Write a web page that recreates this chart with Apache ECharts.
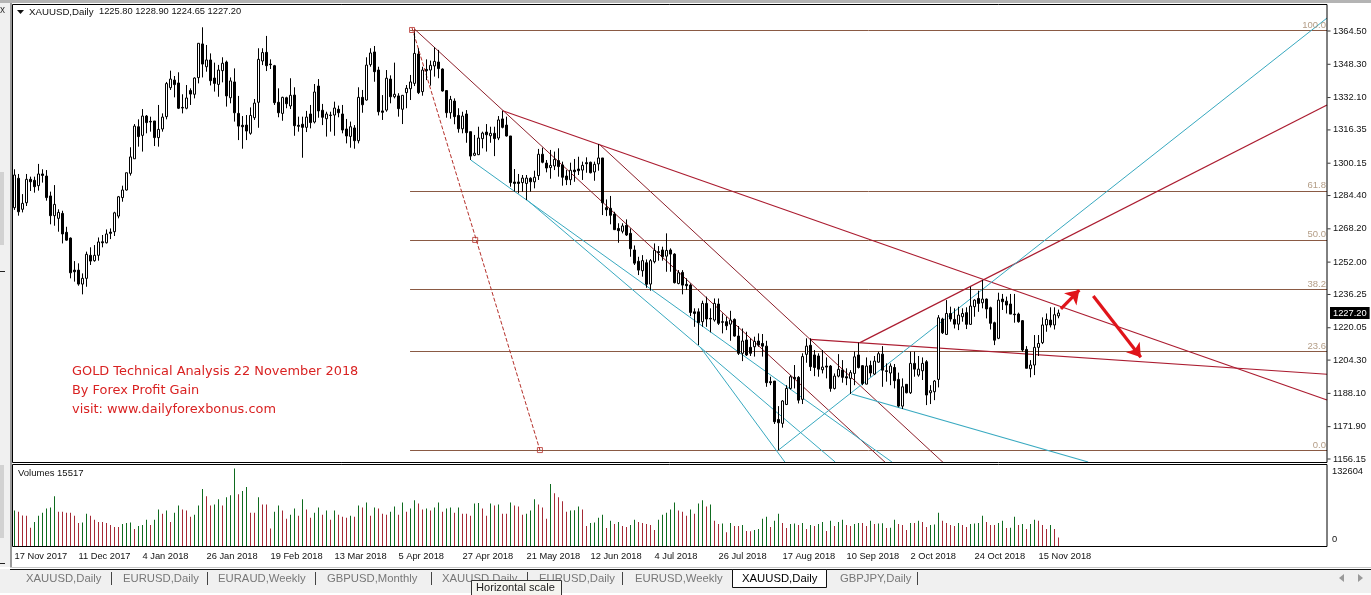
<!DOCTYPE html>
<html>
<head>
<meta charset="utf-8">
<style>html,body{margin:0;padding:0;background:#fff}#main{width:1371px;height:595px}</style>
<script src="https://cdn.jsdelivr.net/npm/echarts@6/dist/echarts.min.js"></script>
</head>
<body>
<div id="main"></div>
<script>
// XAUUSD daily, values
var tickDates = ['17 Nov 2017','11 Dec 2017','4 Jan 2018','26 Jan 2018','19 Feb 2018','13 Mar 2018','5 Apr 2018','27 Apr 2018','21 May 2018','12 Jun 2018','4 Jul 2018','26 Jul 2018','17 Aug 2018','10 Sep 2018','2 Oct 2018','24 Oct 2018','15 Nov 2018'];
var priceTicks = [1364.50,1348.30,1332.10,1316.35,1300.15,1284.40,1268.20,1252.00,1236.25,1227.20,1220.05,1204.30,1188.10,1171.90,1156.15];
var volumeTicks = [0,132604];
var lastPrice = 1227.20;

var opens = [1278.5,1292.8,1277.7,1280.9,1292.3,1291.8,1289.2,1294.9,1293.9,1284.2,1274.6,1273.3,1275.7,1266.5,1263.7,1248.1,1248.1,1241.3,1244.1,1255.3,1252.7,1255.3,1261.9,1261.4,1266.6,1266.8,1274.4,1283.4,1287.1,1295.2,
1302.3,1317.9,1313.7,1323.1,1320.5,1320.7,1312.6,1316.8,1322.8,1336.9,1340.6,1339.2,1327.3,1326.9,1335.5,1333.7,1341.8,1358.2,1347.1,1350.4,1341.6,1338.5,1345.2,1349.4,1332.0,1339.7,1324.4,1318.6,1318.7,1314.7,
1322.3,1329.8,1349.9,1354.1,1348.4,1347.6,1329.8,1324.4,1332.0,1328.0,1333.3,1318.6,1319.1,1317.6,1324.1,1320.2,1337.7,1325.9,1321.8,1323.6,1323.6,1326.4,1324.1,1316.8,1313.2,1317.3,1311.1,1332.2,1330.9,1348.1,
1354.3,1345.5,1325.6,1326.0,1341.1,1332.5,1332.9,1326.4,1334.5,1336.4,1339.0,1353.3,1335.0,1345.8,1345.5,1347.5,1349.4,1346.0,1335.5,1324.7,1330.4,1323.4,1316.9,1324.1,1315.5,1304.0,1304.3,1312.1,1315.3,1313.5,
1314.7,1312.4,1321.7,1318.7,1313.4,1291.0,1291.0,1290.7,1290.3,1292.8,1291.1,1294.1,1304.5,1300.2,1298.0,1298.8,1301.4,1299.3,1293.9,1292.1,1296.8,1297.3,1296.8,1300.4,1300.6,1295.9,1299.8,1302.7,1278.5,1278.2,
1275.4,1268.4,1267.0,1269.9,1266.0,1257.9,1252.4,1247.8,1251.7,1241.3,1252.2,1257.1,1257.9,1254.9,1257.9,1255.9,1241.6,1247.0,1241.2,1240.8,1227.8,1227.8,1223.0,1231.9,1224.6,1223.8,1231.6,1223.0,1223.0,1221.8,
1224.1,1216.0,1207.6,1214.1,1210.5,1210.8,1213.6,1212.4,1211.1,1193.8,1194.1,1175.4,1173.5,1182.7,1190.5,1195.9,1195.9,1185.2,1207.1,1211.5,1206.8,1206.3,1199.6,1201.4,1201.4,1190.5,1196.5,1199.5,1196.2,1195.4,
1197.8,1206.8,1201.6,1192.6,1201.7,1197.5,1203.3,1207.2,1199.1,1198.0,1200.7,1194.9,1181.9,1192.5,1188.4,1202.7,1197.0,1199.1,1203.5,1188.4,1188.9,1194.9,1224.3,1216.8,1227.0,1224.1,1221.8,1225.4,1227.4,1221.7,
1230.3,1234.3,1232.2,1234.0,1229.8,1222.5,1214.9,1234.0,1233.0,1231.6,1226.7,1226.7,1223.5,1209.5,1200.1,1201.9,1210.5,1212.8,1221.4,1223.8,1221.4,1225.80];
var closes = [1294.4,1276.5,1280.6,1292.3,1291.1,1288.7,1294.9,1294.2,1283.4,1274.6,1280.1,1276.2,1265.7,1262.7,1246.8,1247.3,1241.3,1244.1,1255.8,1252.5,1255.3,1261.8,1261.4,1265.7,1266.0,1276.0,1283.8,1287.1,1295.5,1303.2,
1318.2,1313.1,1323.1,1319.9,1320.2,1312.6,1316.6,1322.6,1338.9,1341.1,1338.4,1326.9,1327.0,1331.9,1333.8,1341.6,1358.5,1348.4,1350.4,1340.3,1339.0,1345.5,1348.8,1332.9,1340.2,1324.7,1318.2,1317.9,1315.8,1323.4,
1329.4,1350.7,1354.0,1347.6,1348.1,1329.6,1324.7,1332.2,1329.1,1333.2,1318.4,1318.1,1317.6,1322.6,1319.9,1334.8,1325.6,1322.5,1324.1,1323.4,1327.0,1324.7,1316.3,1313.4,1317.9,1311.1,1332.2,1328.6,1347.9,1353.8,
1344.7,1325.2,1324.9,1341.5,1332.5,1333.7,1326.7,1333.2,1336.6,1339.7,1353.6,1334.5,1345.5,1345.2,1347.8,1349.7,1346.2,1335.3,1324.7,1331.2,1322.8,1316.9,1323.1,1315.0,1303.6,1305.0,1312.4,1314.8,1314.0,1314.7,
1312.1,1321.2,1317.6,1313.4,1290.7,1290.3,1290.3,1292.9,1292.9,1291.1,1293.3,1304.5,1300.6,1297.8,1299.1,1302.0,1298.5,1293.3,1292.1,1296.7,1296.0,1296.5,1299.1,1299.9,1295.5,1299.6,1302.7,1280.9,1277.5,1274.8,
1267.8,1267.3,1269.6,1265.2,1258.5,1251.5,1248.1,1252.7,1241.2,1252.7,1257.7,1256.6,1254.6,1257.7,1255.9,1242.0,1246.8,1240.8,1240.5,1227.5,1227.0,1222.5,1231.9,1224.3,1224.3,1231.9,1222.2,1222.7,1221.0,1223.8,
1216.0,1207.6,1213.6,1206.8,1207.6,1213.4,1211.6,1211.1,1193.3,1193.3,1174.3,1173.8,1184.4,1190.5,1196.2,1195.2,1184.8,1206.0,1211.1,1201.1,1200.7,1199.9,1200.9,1200.9,1190.5,1196.5,1199.8,1195.9,1195.6,1198.2,
1205.9,1200.7,1192.9,1201.4,1198.0,1203.8,1207.4,1199.4,1198.8,1201.4,1194.3,1181.9,1191.3,1188.4,1202.7,1199.9,1199.9,1202.7,1187.3,1189.4,1194.1,1224.9,1217.6,1227.0,1224.3,1221.8,1226.2,1227.0,1221.7,1230.6,
1233.5,1231.9,1234.0,1229.2,1222.2,1214.0,1233.5,1232.7,1231.1,1226.7,1226.4,1223.0,1209.2,1200.3,1201.9,1210.5,1212.4,1221.4,1224.1,1221.4,1226.4,1227.20];
var lows = [1277.4,1274.6,1276.2,1279.3,1286.6,1285.8,1286.8,1290.7,1281.9,1270.4,1269.7,1266.8,1261.1,1262.4,1244.1,1242.5,1240.5,1236.3,1240.0,1250.6,1252.2,1252.7,1259.2,1261.1,1263.2,1264.7,1273.3,1281.4,1286.8,1294.1,
1302.3,1308.2,1305.8,1314.7,1315.5,1308.5,1308.2,1315.5,1321.5,1335.8,1332.2,1326.5,1324.4,1326.4,1328.5,1331.7,1339.0,1341.9,1344.7,1338.0,1335.0,1332.5,1339.5,1327.7,1329.3,1320.4,1311.4,1307.2,1311.4,1314.0,
1321.2,1317.4,1347.9,1345.0,1346.0,1328.5,1322.5,1320.8,1326.9,1326.5,1313.5,1315.5,1302.8,1315.3,1317.1,1319.5,1322.3,1318.7,1313.1,1315.5,1313.5,1322.5,1314.7,1309.8,1307.7,1307.2,1309.8,1324.7,1330.6,1347.1,
1339.8,1323.4,1321.2,1325.2,1329.3,1331.7,1322.8,1319.2,1326.9,1330.9,1337.7,1333.8,1333.0,1340.6,1337.9,1342.3,1341.5,1335.0,1322.3,1321.8,1319.1,1315.0,1314.7,1310.1,1301.7,1303.6,1304.1,1307.4,1305.8,1310.1,
1303.6,1311.4,1317.1,1313.1,1288.7,1286.3,1285.5,1286.3,1282.2,1286.3,1287.9,1292.0,1300.1,1295.7,1292.6,1296.8,1293.6,1289.2,1289.5,1289.5,1291.1,1294.4,1292.0,1295.5,1295.2,1291.6,1296.5,1274.9,1274.4,1270.4,
1267.6,1261.4,1266.0,1264.7,1254.6,1250.6,1245.7,1244.9,1239.5,1238.1,1251.4,1252.7,1252.7,1247.3,1247.3,1241.6,1241.2,1236.3,1238.4,1225.7,1220.5,1211.6,1220.5,1220.5,1217.8,1223.0,1221.4,1217.3,1218.9,1213.7,
1215.7,1206.8,1203.8,1206.3,1206.3,1206.0,1210.8,1206.0,1191.3,1192.1,1173.2,1160.5,1171.4,1182.4,1190.0,1190.5,1183.2,1182.9,1203.0,1199.0,1196.5,1196.2,1197.8,1195.4,1188.9,1190.0,1195.9,1193.3,1192.1,1187.8,
1192.1,1200.2,1192.1,1192.5,1196.2,1197.0,1203.0,1191.3,1193.8,1192.1,1190.5,1181.3,1180.5,1188.1,1187.8,1196.2,1196.2,1194.6,1182.4,1182.9,1184.8,1191.0,1217.0,1216.5,1223.0,1219.7,1218.9,1223.0,1219.4,1221.4,
1225.4,1227.8,1229.5,1224.6,1219.2,1211.6,1214.5,1228.7,1227.0,1226.7,1222.5,1222.5,1208.4,1200.3,1195.9,1197.0,1206.3,1212.1,1218.1,1220.2,1219.2,1224.65];
var highs = [1297.2,1294.9,1285.1,1294.9,1293.6,1293.6,1299.8,1297.2,1296.8,1286.3,1289.5,1277.7,1277.0,1269.2,1264.0,1252.5,1251.4,1246.5,1257.1,1259.2,1260.3,1264.0,1265.2,1267.9,1268.4,1276.5,1284.2,1289.2,1295.5,1307.9,
1319.2,1321.5,1326.5,1323.6,1322.8,1320.7,1328.5,1324.4,1339.7,1345.2,1342.6,1344.4,1333.7,1338.2,1336.6,1341.9,1358.5,1366.3,1357.7,1353.6,1349.1,1348.0,1351.7,1350.1,1341.9,1346.3,1332.9,1323.1,1323.6,1327.3,
1331.4,1356.1,1356.1,1362.1,1350.7,1348.0,1336.6,1332.5,1332.5,1341.5,1337.1,1322.8,1322.8,1325.6,1328.5,1338.7,1341.1,1329.0,1325.2,1325.2,1330.1,1328.2,1328.5,1321.7,1320.4,1318.7,1337.1,1335.8,1351.7,1356.1,
1357.2,1347.1,1333.3,1345.5,1342.9,1349.1,1334.2,1333.3,1338.2,1343.1,1365.3,1356.1,1347.1,1350.7,1350.1,1356.6,1355.3,1346.3,1335.5,1332.9,1331.7,1326.9,1325.2,1326.0,1315.5,1313.9,1317.9,1315.5,1319.2,1317.9,
1317.9,1323.1,1325.7,1322.8,1313.4,1297.3,1294.9,1294.4,1294.4,1293.3,1296.5,1307.1,1307.7,1301.7,1306.6,1305.8,1307.4,1300.9,1296.8,1300.4,1302.2,1303.3,1300.9,1303.0,1300.9,1300.9,1309.5,1302.7,1282.5,1284.2,
1276.5,1270.9,1270.9,1272.8,1268.4,1260.1,1254.6,1255.4,1253.3,1253.5,1261.1,1259.8,1259.5,1266.0,1258.7,1256.3,1248.1,1248.1,1244.1,1241.6,1229.5,1229.5,1233.2,1235.2,1229.5,1234.3,1234.3,1227.0,1225.4,1228.3,
1224.6,1220.9,1219.7,1218.1,1214.9,1215.7,1217.3,1217.0,1213.7,1196.2,1194.1,1181.9,1184.8,1192.1,1197.0,1201.9,1196.5,1207.6,1214.9,1214.9,1209.2,1207.6,1209.2,1205.6,1201.9,1197.8,1207.2,1204.3,1200.3,1199.4,
1208.4,1212.8,1201.9,1205.6,1204.0,1206.3,1208.4,1211.1,1202.7,1202.7,1202.4,1198.2,1195.4,1192.5,1208.4,1208.4,1206.3,1205.6,1204.3,1192.1,1194.6,1226.2,1224.9,1233.5,1230.3,1229.5,1230.3,1229.5,1230.0,1240.0,
1233.9,1238.1,1243.3,1234.3,1230.3,1223.0,1237.1,1236.5,1235.2,1236.5,1236.5,1227.4,1223.8,1211.1,1204.3,1216.5,1216.5,1225.1,1227.0,1230.0,1230.0,1228.90];
var volumes = [61070,59320,52930,52340,31990,41880,52340,57580,64560,66300,85500,59320,59300,57580,57500,52340,40130,40710,55830,52340,45360,41880,41800,40130,36640,33150,33100,38390,40130,40710,
29660,34900,36640,45360,36640,45360,62810,55830,61070,41880,57580,69790,62810,61070,50600,54090,69790,97710,85500,69790,71540,80260,69790,83750,87240,132604,88980,94220,101200,57580,
57500,83750,71540,71500,30830,59320,69790,61070,47110,54090,64560,52340,80260,62810,48850,57580,66300,54090,61070,45360,61070,54090,50600,48850,52340,50600,69790,66300,75030,52340,
66300,64560,55830,54090,59320,68050,54090,75030,59320,64560,78520,73280,62810,64560,61070,66300,75030,59320,64560,66300,57580,66300,55830,55800,52340,73280,73860,64560,52340,73280,
69790,71540,55830,55800,75030,69790,68050,54090,55830,61070,80260,71540,66300,47110,106430,90730,83750,76770,59320,61070,61650,68050,62810,34900,40130,40710,48850,54090,31410,43620,
38390,41880,34900,33150,36640,45360,41880,40130,38390,36640,27920,45360,54090,57580,62810,75030,61070,59320,52340,62810,55830,73280,78520,68050,71540,43620,38390,38970,24430,40130,
34900,34800,36640,26170,26100,27920,29660,47110,50600,33150,43620,55830,40130,31410,38390,38970,36640,40130,29660,36640,34900,38390,41880,26170,43620,34900,41880,45360,36640,34900,
38390,40130,40100,34900,43620,38390,38970,39550,31410,31990,45360,38390,36640,27920,40130,40100,43620,41880,33150,36640,37220,57580,43620,40130,36640,34900,40130,36640,33150,38390,
38970,40130,52340,41880,36640,36600,40130,43620,31410,31990,50600,36640,38390,29660,38390,45360,43620,36640,29660,36640,29660,15517];

// fibonacci retracement
var fibNames = ['100.0','61.8','50.0','38.2','23.6','0.0'];
var fibPrices = [1364.8,1286.5,1262.6,1238.6,1208.5,1160.3];
var fibStart = 99, chartEnd = 328.5;

// trend lines as [bar, price]
var redThin = [[[100.2,1365.3],[218.1,1154.2]], [[146.3,1309.5],[232.4,1154.5]]];
var redThick = [[[199.1,1214.4],[328.5,1197.4]], [[122.2,1325.7],[328.5,1184.9]], [[211.6,1212.8],[328.5,1328.5]]];
var cyanThin = [[[114.2,1301.7],[219.6,1154.7]], [[128,1282.7],[205.4,1154.7]], [[171.6,1210.7],[192.8,1154.7]], [[191.2,1160.5],[328.5,1370.8]]];
var cyanThick = [[[209.5,1187.8],[268.7,1154.7]]];
var dashedLine = [[99.5,1366],[131.5,1160.5]];
var dashedMarks = [[99.5,1365],[115.3,1262.8],[131.5,1160.5]];
var arrows = [[[261.9,1229.2],[266.5,1238.4]], [[270,1235.5],[281.9,1205.7]]];

var noteLines = ['GOLD Technical Analysis 22 November 2018','By Forex Profit Gain','visit: www.dailyforexbonus.com'];
var tabNames = ['XAUUSD,Daily','EURUSD,Daily','EURAUD,Weekly','GBPUSD,Monthly','XAUUSD,Daily','EURUSD,Daily','EURUSD,Weekly','XAUUSD,Daily','GBPJPY,Daily'];
var tabLeft = [26,123,218,327,442,539,635,742,840];
var tabSeps = [111,207,315,431,527,622,917];

var uiFont = '"Liberation Sans", sans-serif';
var noteFont = '"DejaVu Sans", sans-serif';
var totalBars = 329;
var categories = [];
for (var i = 0; i < totalBars; i++) {
    categories.push(i % 16 === 0 && tickDates[i / 16] ? tickDates[i / 16] : '');
}
function isDateTick(i) {
    return i % 16 === 0 && !!tickDates[i / 16];
}

var candles = opens.map(function (o, i) {
    return [o, closes[i], lows[i], highs[i]];
});
var volumeData = volumes.map(function (v, i) {
    return {
        value: v,
        itemStyle: {color: i === 0 || v > volumes[i - 1] ? '#0f6b1f' : '#a52a35'}
    };
});

function toLines(list, color, width, type) {
    return {
        type: 'lines',
        coordinateSystem: 'cartesian2d',
        xAxisIndex: 2,
        yAxisIndex: 0,
        silent: true,
        animation: false,
        polyline: false,
        symbol: 'none',
        lineStyle: {color: color, width: width, type: type || 'solid', opacity: 1, curveness: 0},
        data: list.map(function (c) {
            return {coords: c};
        }),
        z: 3
    };
}

var fibLines = fibPrices.map(function (p) {
    return [[fibStart, p], [chartEnd, p]];
});
var arrowSeries = toLines(arrows, '#e0141a', 3.2);
arrowSeries.symbol = ['none', 'arrow'];
arrowSeries.symbolSize = 13;
arrowSeries.z = 6;

var graphics = [
    {type: 'rect', shape: {x: 0, y: 0, width: 1371, height: 3}, style: {fill: '#b4b4b4'}},
    {type: 'rect', shape: {x: 0, y: 3, width: 10, height: 564}, style: {fill: '#f0f0f0'}},
    {type: 'rect', shape: {x: 10, y: 3, width: 2, height: 564}, style: {fill: '#9a9a9a'}},
    {type: 'rect', shape: {x: 0, y: 172, width: 4, height: 73}, style: {fill: '#d2d2d2'}},
    {type: 'rect', shape: {x: 0, y: 465, width: 4, height: 73}, style: {fill: '#d2d2d2'}},
    {type: 'rect', shape: {x: 0, y: 271, width: 5, height: 1}, style: {fill: '#222'}},
    {type: 'rect', shape: {x: 0, y: 563, width: 5, height: 1}, style: {fill: '#222'}},
    {type: 'text', x: 0, y: 5, style: {text: 'x', fill: '#333', font: '10px ' + uiFont}},
    // panel frames
    {type: 'rect', z: 8, shape: {x: 12.5, y: 4.5, width: 1314.5, height: 458}, style: {fill: 'none', stroke: '#000', lineWidth: 1}},
    {type: 'rect', z: 8, shape: {x: 12.5, y: 464.5, width: 1314.5, height: 82}, style: {fill: 'none', stroke: '#000', lineWidth: 1}},
    // strip with the tabs
    {type: 'rect', shape: {x: 10, y: 567, width: 1361, height: 1}, style: {fill: '#c8c8c8'}},
    {type: 'rect', shape: {x: 0, y: 569, width: 1371, height: 24}, style: {fill: '#f0f0f0'}},
    {type: 'rect', shape: {x: 10, y: 569, width: 1361, height: 1}, style: {fill: '#111'}},
    {type: 'rect', shape: {x: 732.5, y: 569.5, width: 94, height: 18}, style: {fill: '#fff', stroke: '#111', lineWidth: 1}},
    {type: 'polygon', shape: {points: [[17, 10], [24, 10], [20.5, 14]]}, style: {fill: '#111'}},
    {type: 'text', x: 29, y: 7, style: {text: 'XAUUSD,Daily', fill: '#111', font: '9.7px ' + uiFont}},
    {type: 'text', x: 99, y: 7, style: {text: [opens[261].toFixed(2), highs[261].toFixed(2), lows[261].toFixed(2), closes[261].toFixed(2)].join(' '), fill: '#111', font: '9.3px ' + uiFont}},
    {type: 'text', x: 18, y: 468, style: {text: 'Volumes ' + volumes[261], fill: '#111', font: '9.5px ' + uiFont}},
    {type: 'polygon', shape: {points: [[1344, 574], [1344, 582], [1339, 578]]}, style: {fill: '#9a9a9a'}},
    {type: 'polygon', shape: {points: [[1358, 574], [1358, 582], [1363, 578]]}, style: {fill: '#9a9a9a'}}
];
noteLines.forEach(function (t, i) {
    graphics.push({type: 'text', x: 72, y: 365 + i * 19, style: {text: t, fill: '#d92222', font: '12.9px ' + noteFont}});
});
tabSeps.forEach(function (x) {
    graphics.push({type: 'rect', shape: {x: x, y: 572, width: 1, height: 13}, style: {fill: '#444'}});
});
tabNames.forEach(function (t, i) {
    graphics.push({type: 'text', x: tabLeft[i], y: 573, style: {text: t, fill: i === 7 ? '#000' : '#777', font: '11.3px ' + uiFont}});
});
graphics.push({type: 'rect', z: 50, shape: {x: 471.5, y: 580.5, width: 90, height: 15}, style: {fill: '#f5f5f0', stroke: '#333', lineWidth: 1}});
graphics.push({type: 'text', z: 51, x: 476, y: 582, style: {text: 'Horizontal scale', fill: '#222', font: '11.1px ' + uiFont}});

var option = {
    animation: false,
    backgroundColor: '#fff',
    graphic: graphics,
    grid: [
        {left: 12.5, top: 4.5, width: 1316, height: 458, outerBoundsMode: 'none'},
        {left: 12.5, top: 464.5, width: 1316, height: 82, outerBoundsMode: 'none'}
    ],
    xAxis: [
        {type: 'category', gridIndex: 0, data: categories, show: false},
        {
            type: 'category',
            gridIndex: 1,
            data: categories,
            axisLine: {show: false},
            axisTick: {alignWithLabel: true, length: 3, interval: isDateTick, lineStyle: {color: '#000'}},
            axisLabel: {interval: isDateTick, showMinLabel: true, align: 'left', color: '#111', fontFamily: uiFont, fontSize: 9.3, margin: 5, hideOverlap: false}
        },
        {type: 'value', gridIndex: 0, min: -0.5, max: 328.87, show: false}
    ],
    yAxis: [
        {
            type: 'value',
            gridIndex: 0,
            position: 'right',
            offset: -1.5,
            min: 1154.45,
            max: 1377.4,
            splitLine: {show: false},
            axisLine: {show: false},
            axisTick: {show: false},
            axisLabel: {
                customValues: priceTicks,
                color: '#111',
                fontFamily: uiFont,
                fontSize: 9.3,
                margin: 3,
                formatter: function (v) {
                    return v === lastPrice ? '{last|' + v.toFixed(2) + '}' : '{plain|' + v.toFixed(2) + '}';
                },
                rich: {
                    plain: {color: '#111', padding: [0, 0, 0, 3], fontSize: 9.3, fontFamily: uiFont},
                    last: {color: '#fff', backgroundColor: '#000', padding: [2, 3, 1, 3], fontSize: 9.3, fontFamily: uiFont}
                }
            }
        },
        {
            type: 'value',
            gridIndex: 1,
            position: 'right',
            offset: -1.5,
            min: 0,
            max: 139500,
            splitLine: {show: false},
            axisLine: {show: false},
            axisTick: {show: false},
            axisLabel: {
                customValues: volumeTicks,
                color: '#111',
                fontFamily: uiFont,
                fontSize: 9.3,
                margin: 5,
                formatter: function (v) {
                    return v === 0 ? '{zero|0}' : '{top|' + v + '}';
                },
                rich: {
                    zero: {padding: [0, 0, 14, 0], fontSize: 9.3, fontFamily: uiFont, color: '#111'},
                    top: {padding: [5, 0, 0, 0], fontSize: 9.3, fontFamily: uiFont, color: '#111'}
                }
            }
        }
    ],
    series: [
        {
            type: 'candlestick',
            xAxisIndex: 0,
            yAxisIndex: 0,
            data: candles,
            barWidth: 3,
            z: 4,
            itemStyle: {color: '#fff', color0: '#000', borderColor: '#000', borderColor0: '#000', borderWidth: 1}
        },
        {
            type: 'bar',
            xAxisIndex: 1,
            yAxisIndex: 1,
            data: volumeData,
            barWidth: 1
        },
        toLines(fibLines, '#8a5a44', 1),
        toLines(redThin, '#8c1f2a', 1),
        toLines(redThick, '#ab1c30', 1.2),
        toLines(cyanThin, '#38a9c0', 1),
        toLines(cyanThick, '#38a9c0', 1.2),
        toLines([dashedLine], '#b5302a', 1, 'dashed'),
        {
            type: 'scatter',
            xAxisIndex: 2,
            yAxisIndex: 0,
            data: dashedMarks,
            symbol: 'rect',
            symbolSize: 5,
            silent: true,
            z: 5,
            itemStyle: {color: 'transparent', borderColor: '#b5302a', borderWidth: 1}
        },
        {
            // small marks on the price scale
            type: 'scatter',
            xAxisIndex: 2,
            yAxisIndex: 0,
            symbol: 'rect',
            symbolSize: [3, 1],
            symbolOffset: [2, 0],
            silent: true,
            clip: false,
            z: 5,
            itemStyle: {color: '#000'},
            data: priceTicks.filter(function (p) {
                return p !== lastPrice;
            }).map(function (p) {
                return [chartEnd, p];
            })
        },
        {
            type: 'scatter',
            xAxisIndex: 2,
            yAxisIndex: 0,
            symbolSize: 0,
            silent: true,
            z: 5,
            data: fibPrices.map(function (p, i) {
                return {
                    value: [chartEnd, p],
                    label: {
                        show: true,
                        formatter: fibNames[i],
                        position: 'left',
                        distance: 1,
                        offset: [0, -5.5],
                        color: '#a08468',
                        fontFamily: uiFont,
                        fontSize: 9.5
                    }
                };
            })
        },
        arrowSeries
    ]
};

var chart = echarts.init(document.getElementById('main'));
chart.setOption(option);
</script>
</body>
</html>
